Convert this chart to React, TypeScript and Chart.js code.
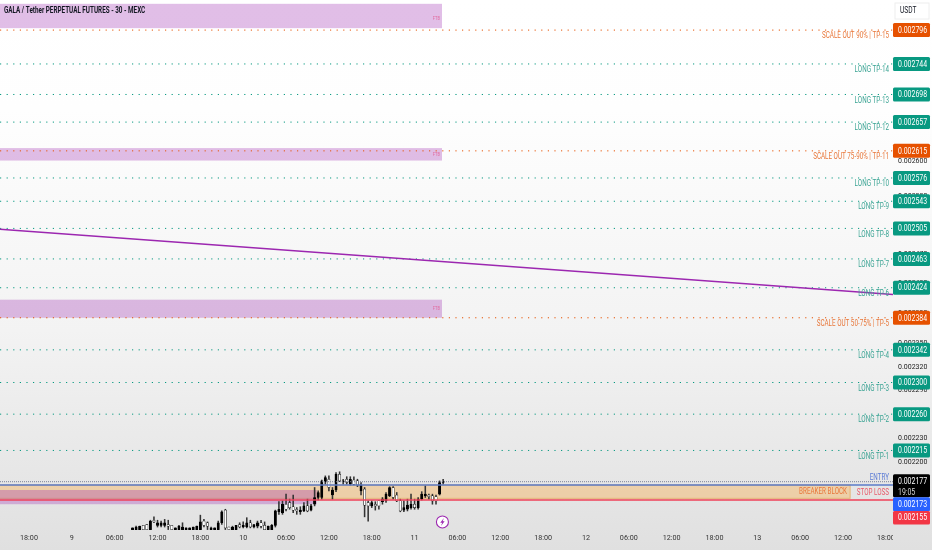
import React, { useEffect, useRef } from "react";
import { Chart, registerables } from "chart.js";

Chart.register(...registerables);

// Candle values are in micro-USDT (2120 = 0.002120), 30-minute candles
const firstCandleHour = 14.5;
const candleStepHours = 0.5;
const opens = [2120,2120,2120,2125,2126,2120,2131,2125,2125,2125,2126,2125,2120,2120,2120,2120,2120,2120,2120,2120,2130,2128,2120,2120,2120,2128,2143,2123,2120,2120,2126,2123,2123,2128,2123,2124,2128,2125,2120,2120,2125,2141,2140,2150,2152,2147,2144,2141,2142,2148,2143,2150,2158,2158,2177,2180,2161,2167,2186,2177,2180,2174,2179,2178,2166,2168,2152,2148,2150,2154,2153,2154,2160,2170,2161,2154,2143,2144,2146,2150,2146,2156,2160,2161,2160,2159,2162,2176];
const closes = [2122,2123,2124,2120,2120,2130,2129,2128,2128,2128,2124,2120,2122,2124,2123,2122,2122,2123,2124,2129,2125,2124,2122,2122,2128,2141,2122,2120,2123,2125,2123,2125,2128,2123,2126,2128,2124,2120,2124,2125,2142,2144,2150,2144,2146,2143,2142,2143,2148,2142,2148,2158,2164,2178,2182,2170,2167,2186,2178,2178,2176,2180,2174,2173,2173,2149,2148,2152,2148,2148,2156,2162,2170,2158,2154,2142,2146,2149,2150,2146,2156,2162,2162,2159,2154,2154,2176,2177];
const highs = [2122,2124,2124,2125,2126,2131,2135,2131,2130,2132,2131,2125,2122,2125,2128,2122,2122,2123,2124,2137,2132,2129,2123,2122,2130,2142,2144,2123,2124,2125,2128,2129,2134,2131,2126,2130,2131,2129,2124,2126,2143,2153,2154,2162,2156,2161,2146,2147,2152,2156,2150,2170,2166,2179,2184,2184,2170,2188,2189,2180,2183,2183,2183,2180,2176,2170,2154,2154,2153,2154,2158,2164,2171,2171,2164,2156,2154,2156,2162,2156,2158,2165,2172,2162,2162,2161,2178,2180];
const lows = [2120,2120,2120,2120,2120,2120,2128,2123,2123,2123,2120,2120,2120,2120,2120,2120,2120,2120,2120,2120,2123,2120,2120,2120,2120,2126,2120,2120,2120,2120,2122,2122,2122,2122,2122,2122,2122,2120,2120,2120,2123,2138,2138,2142,2144,2140,2138,2138,2141,2141,2142,2148,2155,2156,2174,2166,2156,2165,2177,2174,2174,2173,2173,2171,2161,2135,2130,2146,2143,2144,2150,2152,2159,2156,2153,2141,2141,2142,2144,2144,2144,2155,2158,2156,2150,2150,2161,2174];
const candleHours = opens.map((_, i) => firstCandleHour + i * candleStepHours);

const tpPrices = [0.002744,0.002698,0.002657,0.002576,0.002543,0.002505,0.002463,0.002424,0.002342,0.0023,0.00226,0.002215];
const tpLabels = ["LONG TP-14","LONG TP-13","LONG TP-12","LONG TP-10","LONG TP-9","LONG TP-8","LONG TP-7","LONG TP-6","LONG TP-4","LONG TP-3","LONG TP-2","LONG TP-1"];
const scalePrices = [0.002796,0.002615,0.002384];
const scaleLabels = ["SCALE OUT 90% | TP-15","SCALE OUT 75-90% | TP-11","SCALE OUT 50-75% | TP-5"];
const currentPrice = 0.002177;
const entryPrice = 0.002173;
const stopPrice = 0.002155;
const trendHours = [-4.06, 121];
const trendPrices = [0.002504, 0.002415];
const axisTicks = [0.0028,0.00275,0.0027,0.00265,0.0026,0.00255,0.00251,0.00247,0.00243,0.00239,0.00235,0.00232,0.00229,0.00226,0.00223,0.0022];
const timeLabels = ["18:00","9","06:00","12:00","18:00","10","06:00","12:00","18:00","11","06:00","12:00","18:00","12","06:00","12:00","18:00","13","06:00","12:00","18:00"];
const purpleZoneTops = [0.002837,0.002619,0.002408];
const purpleZoneBottoms = [0.002799,0.002601,0.002384];
const xMinHour = -4.06;
const xMaxHour = 121;
const zoneEndHour = 57.84;
const lowerZoneEndHour = 40.3;
const lowerZone = [0.002167, 0.00215];
const breakerZone = [0.002173, 0.002157];
const breakerEndHour = 115;
const eventMarker = { hour: 57.9, price: 0.002129 };

const GREEN = "#089981";
const ORANGE = "#e65100";
const BLUE = "#2962ff";
const RED = "#f23645";
const FONT = 'Roboto, "Open Sans", sans-serif';

const bgGradient = (ctx: CanvasRenderingContext2D) => {
  const g = ctx.createLinearGradient(0, 0, 0, 550);
  g.addColorStop(0, "#ffffff");
  g.addColorStop(0.2, "#fefefe");
  g.addColorStop(0.6, "#f3f3f3");
  g.addColorStop(1, "#e0e0e0");
  return g;
};

// Squeezed text: the reference's lettering is horizontally compressed
const squeezed = (
  ctx: CanvasRenderingContext2D,
  text: string,
  x: number,
  y: number,
  font: string,
  color: string,
  align: CanvasTextAlign,
  sx: number,
) => {
  ctx.save();
  ctx.translate(x, y);
  ctx.scale(sx, 1);
  ctx.font = font;
  ctx.fillStyle = color;
  ctx.textAlign = align;
  ctx.textBaseline = "middle";
  ctx.fillText(text, 0, 0);
  ctx.restore();
};

const badge = (ctx: CanvasRenderingContext2D, y: number, h: number, color: string, text: string) => {
  ctx.fillStyle = color;
  ctx.beginPath();
  ctx.roundRect(893, y - h / 2, 37, h, 1.5);
  ctx.fill();
  squeezed(ctx, text, 898, y + 0.5, `9px ${FONT}`, "#ffffff", "left", 0.77);
};

const overlay = {
  id: "overlay",
  beforeDraw(chart: any) {
    const { ctx, width, height } = chart;
    ctx.save();
    ctx.fillStyle = bgGradient(ctx);
    ctx.fillRect(0, 0, width, height);
    ctx.restore();
  },
  beforeDatasetsDraw(chart: any) {
    const { ctx, scales, chartArea } = chart;
    const { x, y } = scales;
    ctx.save();
    // clip the time axis behind the price column
    ctx.fillStyle = bgGradient(ctx);
    ctx.fillRect(chartArea.right, chartArea.bottom, chart.width - chartArea.right, chart.height - chartArea.bottom);
    const left = chartArea.left;
    // purple zones
    purpleZoneTops.forEach((top, i) => {
      const y0 = y.getPixelForValue(top);
      const y1 = y.getPixelForValue(purpleZoneBottoms[i]);
      ctx.fillStyle = "rgba(156,39,176,0.3)";
      ctx.fillRect(left, y0, x.getPixelForValue(zoneEndHour) - left, y1 - y0);
      squeezed(ctx, "FTB", x.getPixelForValue(zoneEndHour) - 2, (y0 + y1) / 2 + (i === 0 ? 3 : 0), `5px ${FONT}`, "#e26ca0", "right", 0.8);
    });
    // breaker block
    const by0 = y.getPixelForValue(breakerZone[0]);
    const by1 = y.getPixelForValue(breakerZone[1]);
    const bx1 = x.getPixelForValue(breakerEndHour);
    ctx.fillStyle = "rgba(252,170,60,0.36)";
    ctx.fillRect(left, by0, bx1 - left, by1 - by0);
    ctx.strokeStyle = "rgba(230,150,50,0.55)";
    ctx.lineWidth = 1;
    ctx.strokeRect(left - 1, by0, bx1 - left + 1, by1 - by0);
    // lower purple zone
    const ly0 = y.getPixelForValue(lowerZone[0]);
    const ly1 = y.getPixelForValue(lowerZone[1]);
    ctx.fillStyle = "rgba(156,39,176,0.3)";
    ctx.fillRect(left, ly0, x.getPixelForValue(lowerZoneEndHour) - left, ly1 - ly0);
    ctx.restore();
  },
  afterDraw(chart: any) {
    const { ctx, scales } = chart;
    const { x, y } = scales;
    ctx.save();
    // title
    squeezed(ctx, "GALA / Tether PERPETUAL FUTURES - 30 - MEXC", 4, 11, `bold 9.5px ${FONT}`, "#131722", "left", 0.665);

    // level captions
    const capFont = `8.5px ${FONT}`;
    const capSx = 0.74;
    tpPrices.forEach((p, i) => squeezed(ctx, tpLabels[i], 889, y.getPixelForValue(p) + 6, capFont, "#3aa393", "right", capSx));
    scalePrices.forEach((p, i) => squeezed(ctx, scaleLabels[i], 889, y.getPixelForValue(p) + 6, capFont, "#e8773a", "right", capSx));
    squeezed(ctx, "ENTRY", 889, y.getPixelForValue(entryPrice) - 7, capFont, "#5b7bd5", "right", capSx);
    squeezed(ctx, "STOP LOSS", 889, y.getPixelForValue(stopPrice) - 7, capFont, "#e85a6a", "right", capSx);
    squeezed(ctx, "BREAKER BLOCK", 847, (y.getPixelForValue(breakerZone[0]) + y.getPixelForValue(breakerZone[1])) / 2, capFont, "#e8773a", "right", capSx);

    // USDT box
    ctx.fillStyle = "#ffffff";
    ctx.strokeStyle = "#eeeeee";
    ctx.lineWidth = 1;
    ctx.fillRect(895, 3, 34, 16);
    ctx.strokeRect(895, 3, 34, 16);
    squeezed(ctx, "USDT", 900, 11, capFont, "#131722", "left", 0.78);

    // price badges
    tpPrices.forEach((p) => badge(ctx, y.getPixelForValue(p), 14, GREEN, p.toFixed(6)));
    scalePrices.forEach((p) => badge(ctx, y.getPixelForValue(p), 14, ORANGE, p.toFixed(6)));

    // stacked badges at the current price
    const top = y.getPixelForValue(currentPrice);
    ctx.fillStyle = "#000000";
    ctx.beginPath();
    ctx.roundRect(893, top - 7.5, 37, 23, 1.5);
    ctx.fill();
    squeezed(ctx, currentPrice.toFixed(6), 898, top + 0.5, `9px ${FONT}`, "#ffffff", "left", 0.77);
    squeezed(ctx, "19:05", 898, top + 11, `9px ${FONT}`, "#d8d8d8", "left", 0.77);
    badge(ctx, top + 22.5, 14, BLUE, entryPrice.toFixed(6));
    badge(ctx, top + 36, 13.5, RED, stopPrice.toFixed(6));

    // lightning marker
    const ex = x.getPixelForValue(eventMarker.hour);
    const ey = y.getPixelForValue(eventMarker.price);
    ctx.beginPath();
    ctx.arc(ex, ey, 6, 0, Math.PI * 2);
    ctx.fillStyle = "#ffffff";
    ctx.fill();
    ctx.strokeStyle = "#9c27b0";
    ctx.lineWidth = 1.1;
    ctx.stroke();
    ctx.fillStyle = "#9c27b0";
    ctx.beginPath();
    ctx.moveTo(ex + 1.5, ey - 4);
    ctx.lineTo(ex - 2.2, ey + 0.8);
    ctx.lineTo(ex - 0.2, ey + 0.8);
    ctx.lineTo(ex - 1.5, ey + 4);
    ctx.lineTo(ex + 2.2, ey - 0.8);
    ctx.lineTo(ex + 0.2, ey - 0.8);
    ctx.closePath();
    ctx.fill();
    ctx.restore();
  },
};

const levelLine = (price: number, color: string, order = 5, dash: number[] = [1.2, 5.4], width = 1) => ({
  type: "line" as const,
  data: [{ x: xMinHour, y: price }, { x: xMaxHour, y: price }],
  borderColor: color,
  borderWidth: width,
  borderDash: dash,
  pointRadius: 0,
  order,
  clip: false,
});

export default function App() {
  const ref = useRef<HTMLCanvasElement>(null);

  useEffect(() => {
    if (!ref.current) return;
    const chart = new Chart(ref.current, {
      type: "bar",
      data: {
        datasets: [
          ...tpPrices.map((p) => levelLine(p, GREEN)),
          ...scalePrices.map((p) => levelLine(p, ORANGE)),
          levelLine(currentPrice, "#7a8095", 0, [1, 1]),
          levelLine(entryPrice, "#5b7bc8", 0, [], 1.5),
          levelLine(stopPrice, "#ef4058", 0, [], 1.5),
          {
            type: "line",
            data: trendHours.map((h, i) => ({ x: h, y: trendPrices[i] })),
            borderColor: "#9c27b0",
            borderWidth: 1.5,
            pointRadius: 0,
            order: 3,
          },
          {
            type: "bar",
            data: candleHours.map((h, i) => ({ x: h, y: [lows[i] / 1e6, highs[i] / 1e6] })),
            backgroundColor: "#333333",
            barThickness: 0.9,
            grouped: false,
            order: 2,
          },
          {
            type: "bar",
            data: candleHours.map((h, i) => ({ x: h, y: [opens[i] / 1e6, closes[i] / 1e6] })),
            backgroundColor: candleHours.map((_, i) => (closes[i] >= opens[i] ? "#000000" : "#ffffff")),
            borderColor: "#000000",
            borderWidth: 0.5,
            borderSkipped: false,
            barThickness: 2.3,
            grouped: false,
            order: 1,
          },
        ] as any,
      },
      options: {
        responsive: false,
        animation: false,
        devicePixelRatio: 1,
        layout: { padding: 0 },
        plugins: { legend: { display: false }, tooltip: { enabled: false } },
        scales: {
          x: {
            type: "linear",
            position: "bottom",
            min: xMinHour,
            max: xMaxHour,
            offset: false,
            bounds: "data",
            grid: { display: false, offset: false, drawTicks: false },
            border: { display: false },
            afterFit: (s: any) => { s.height = 20; s.paddingLeft = 0; s.paddingRight = 0; },
            afterBuildTicks: (s: any) => {
              s.ticks = timeLabels.map((_, i) => ({ value: i * 6 }));
            },
            ticks: {
              autoSkip: false,
              maxRotation: 0,
              padding: 4,
              color: "#333333",
              font: { family: FONT, size: 7.2 },
              callback: (v: any) => timeLabels[Math.round(Number(v) / 6)],
            },
          },
          y: {
            type: "logarithmic",
            position: "right",
            min: 0.0021195,
            max: 0.002843,
            bounds: "data",
            grid: { display: false, drawTicks: false },
            border: { display: false },
            afterFit: (s: any) => { s.width = 39; s.paddingTop = 0; s.paddingBottom = 0; },
            afterBuildTicks: (s: any) => {
              s.ticks = axisTicks.map((v) => ({ value: v }));
            },
            ticks: {
              z: 1,
              autoSkip: false,
              padding: 5,
              color: "#222222",
              font: { family: FONT, size: 7 },
              callback: (v: any) => Number(v).toFixed(6),
            },
          },
        },
      },
      plugins: [overlay],
    } as any);
    return () => chart.destroy();
  }, []);

  return (
    <canvas
      ref={ref}
      width={932}
      height={550}
      style={{ position: "absolute", left: 0, top: 0, width: 932, height: 550, display: "block" }}
    />
  );
}
